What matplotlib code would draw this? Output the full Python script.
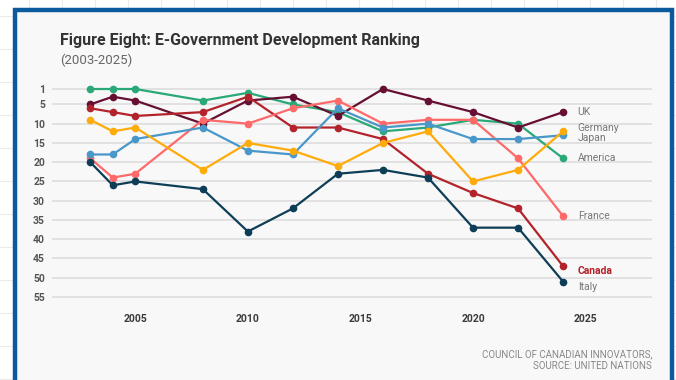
import matplotlib.pyplot as plt
from matplotlib.patches import Rectangle
from matplotlib.lines import Line2D

plt.rcParams['font.family'] = ['Roboto', 'DejaVu Sans']

# UN E-Government Development ranking by survey year
years = [2003, 2004, 2005, 2008, 2010, 2012, 2014, 2016, 2018, 2020, 2022, 2024]

america = [1, 1, 1, 4, 2, 5, 7, 12, 11, 9, 10, 19]
uk = [5, 3, 4, 10, 4, 3, 8, 1, 4, 7, 11, 7]
canada = [6, 7, 8, 7, 3, 11, 11, 14, 23, 28, 32, 47]
france = [19, 24, 23, 9, 10, 6, 4, 10, 9, 9, 19, 34]
japan = [18, 18, 14, 11, 17, 18, 6, 11, 10, 14, 14, 13]
germany = [9, 12, 11, 22, 15, 17, 21, 15, 12, 25, 22, 12]
italy = [20, 26, 25, 27, 38, 32, 23, 22, 24, 37, 37, 51]

series = [
    ('America', america, '#2aa877'),
    ('UK', uk, '#670f33'),
    ('Canada', canada, '#b3232b'),
    ('France', france, '#ff6969'),
    ('Japan', japan, '#4a97c9'),
    ('Germany', germany, '#ffab0a'),
    ('Italy', italy, '#0e3e57'),
]

# where the end labels sit (nudged so they don't collide)
label_y = {'America': 19, 'UK': 7, 'Canada': 48.3, 'France': 34,
           'Japan': 13.7, 'Germany': 11.0, 'Italy': 52.5}

y_ticks = [1, 5, 10, 15, 20, 25, 30, 35, 40, 45, 50, 55]
x_ticks = [2005, 2010, 2015, 2020, 2025]

W, H = 676, 380
fig = plt.figure(figsize=(W / 100, H / 100), dpi=100)
fig.patch.set_facecolor('white')

# faint spreadsheet cells behind the card
for gx in range(-4, W, 33):
    fig.add_artist(Line2D([(gx) / W] * 2, [0, 1], color='#ececec', lw=0.8, zorder=0))
for gy in range(16, H, 33):
    fig.add_artist(Line2D([0, 1], [1 - gy / H] * 2, color='#ececec', lw=0.8, zorder=0))

# card with blue border
fig.add_artist(Rectangle((15 / W, -0.05), 656.5 / W, 1.05 - 10 / H,
                         facecolor='#f8f8f8', edgecolor='#0b5a9e', lw=3.2, zorder=1))

ax = fig.add_axes([52 / W, 1 - 304.7 / H, 600 / W, (304.7 - 85.15) / H], zorder=2)
ax.set_facecolor('none')

for name, vals, col in series:
    ax.plot(years, vals, color=col, lw=1.6, marker='o', ms=4.5, zorder=3,
            solid_capstyle='round')
    if name == 'Canada':
        ax.annotate(name, (years[-1], label_y[name]), xytext=(10.5, 0),
                    textcoords='offset points', va='center', ha='left',
                    fontsize=7.5, fontweight='bold', color=col)
    else:
        ax.annotate(name, (years[-1], label_y[name]), xytext=(10.5, 0),
                    textcoords='offset points', va='center', ha='left',
                    fontsize=7.5, color='#777777')

ax.set_xlim(2001.3, 2027.95)
ax.set_ylim(57, 0)
ax.set_yticks(y_ticks)
ax.set_xticks(x_ticks)
ax.set_xticklabels([str(t) for t in x_ticks], fontweight='bold', color='#3a3a3a', fontsize=7.5)
ax.set_yticklabels([str(t) for t in y_ticks], fontweight='bold', color='#555555', fontsize=7.5)
ax.tick_params(axis='both', length=0)
ax.tick_params(axis='x', pad=6.5)
ax.tick_params(axis='y', pad=5)
ax.grid(axis='y', color='#dddddd', lw=1.2, zorder=0)
ax.set_axisbelow(True)
for s in ax.spines.values():
    s.set_visible(False)

fig.text(60 / W, 1 - 40 / H, 'Figure Eight: E-Government Development Ranking',
         fontsize=11.5, fontweight='bold', color='#333333', va='center', ha='left', zorder=3)
fig.text(60 / W, 1 - 60 / H, '(2003-2025)', fontsize=9.5, color='#666666',
         va='center', ha='left', zorder=3)
fig.text(652 / W, 1 - 360 / H, 'COUNCIL OF CANADIAN INNOVATORS,\nSOURCE: UNITED NATIONS',
         fontsize=7, color='#888888', va='center', ha='right', multialignment='right',
         linespacing=1.3, zorder=3)

fig.savefig('out.png', dpi=100)
